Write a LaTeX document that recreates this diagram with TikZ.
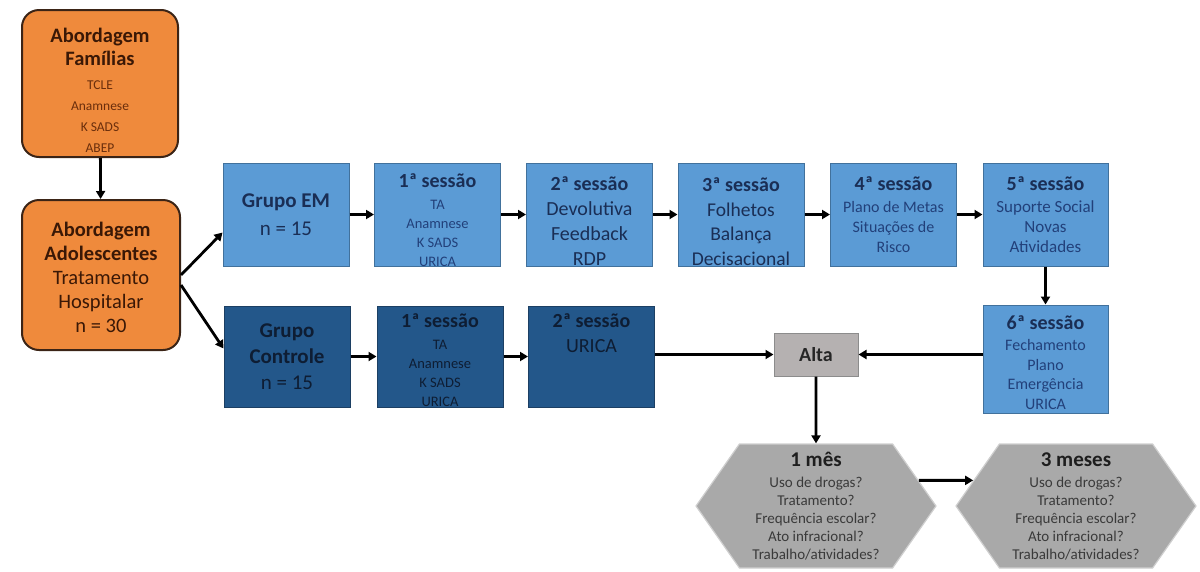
\documentclass[tikz,border=0pt]{standalone}
\usepackage{fontspec}
\setmainfont{Carlito}
\usetikzlibrary{arrows.meta,shapes.symbols,calc}
\definecolor{orng}{HTML}{EF8A3C}
\definecolor{brn}{HTML}{3B2416}
\definecolor{brntxt}{HTML}{3A1806}
\definecolor{brnsm}{HTML}{6A2E0C}
\definecolor{lblue}{HTML}{5B9BD5}
\definecolor{lbedge}{HTML}{41719C}
\definecolor{navy}{HTML}{1A2E55}
\definecolor{navysm}{HTML}{22407A}
\definecolor{dblue}{HTML}{23578A}
\definecolor{dbedge}{HTML}{1C3F63}
\definecolor{dtxt}{HTML}{0E1D33}
\definecolor{altag}{HTML}{B5B1B1}
\definecolor{altae}{HTML}{8C8C8C}
\definecolor{hexg}{HTML}{A9A9A9}
\definecolor{hexe}{HTML}{CFCFCF}
\definecolor{hextxt}{HTML}{1E1E1E}
\definecolor{hexsm}{HTML}{3A3A3A}
\newcommand\fsz[2]{\fontsize{#1}{#2}\selectfont}
\newcommand\dn[1]{\rule{0pt}{#1}}
\begin{document}
\begin{tikzpicture}[x=1pt,y=-1pt,
  arr/.style={line width=2.8pt,-{Triangle[length=8pt,width=9pt]}},
  orbox/.style={draw=brn,line width=2pt,fill=orng,rounded corners=17pt,align=center,text=brntxt,inner sep=0pt},
  lbox/.style={draw=lbedge,line width=1pt,fill=lblue,minimum width=126pt,minimum height=103pt,align=center,text=navy,inner sep=0pt},
  dbox/.style={lbox,draw=dbedge,fill=dblue,text=dtxt},
  tx/.style={align=center,inner sep=0pt},
  altab/.style={draw=altae,line width=1pt,fill=altag,minimum width=84pt,minimum height=43pt,text=black!85,inner sep=0pt},
  hexs/.style={signal,signal to=east and west,signal pointer angle=110,draw=hexe,line width=1.2pt,fill=hexg,minimum width=240pt,minimum height=124pt,inner sep=0pt,align=center,text=hexsm,font=\fsz{15}{18}}
]
\useasboundingbox (0,0) rectangle (1200,571);

% orange boxes
\node[orbox,minimum width=156pt,minimum height=147pt,font=\fsz{13.5}{21},text=brnsm] (fam) at (100,83.5)
 {{\bfseries\fsz{20.5}{23}\color{brntxt}\dn{28.5pt}Abordagem}\\[2pt]{\bfseries\fsz{20.5}{23}\color{brntxt}Famílias}\\[3pt]TCLE\\Anamnese\\K SADS\\ABEP};
\node[orbox,minimum width=158pt,minimum height=150pt,font=\fsz{20.5}{24}] (ado) at (101,275)
 {{\bfseries\dn{19pt}Abordagem}\\{\bfseries Adolescentes}\\Tratamento\\Hospitalar\\n = 30};

% top row
\node[lbox,font=\fsz{21}{28}] (em) at (286,214.5) {{\bfseries Grupo EM}\\n = 15};
\node[lbox] (s1) at (437.5,214.5) {};
\begin{scope}
\clip (s1.south west) rectangle (s1.north east);
\node[tx,anchor=north,font=\fsz{14.5}{19},text=navysm] (s1t) at ([yshift=-11pt]s1.north)
 {{\bfseries\fsz{20}{19}\color{navy}1ª sessão}\\[3pt]TA\\Anamnese\\K SADS\\URICA};
\end{scope}
\node[lbox,font=\fsz{20}{25}] (s2) at (589.5,214.5) {{\bfseries\dn{27pt}2ª sessão}\\Devolutiva\\Feedback\\RDP};
\node[lbox,font=\fsz{19.5}{24.5}] (s3) at (741,214.5) {{\bfseries\fsz{20}{24.5}\dn{28pt}3ª sessão}\\Folhetos\\Balança\\Decisacional};
\node[lbox,font=\fsz{16}{20},text=navysm] (s4) at (893.5,214.5) {{\bfseries\fsz{20}{20}\color{navy}4ª sessão}\\[2pt]Plano de Metas\\Situações de\\Risco};
\node[lbox,font=\fsz{17}{20},text=navysm,minimum width=125pt] (s5) at (1045.5,214.5) {{\bfseries\fsz{20}{20}\color{navy}5ª sessão}\\[2pt]Suporte Social\\Novas\\Atividades};
\node[lbox,font=\fsz{16}{19.5},text=navysm,minimum width=125pt,minimum height=108pt] (s6) at (1045.5,359)
 {{\bfseries\fsz{20}{20}\color{navy}\dn{21pt}6ª sessão}\\[2pt]Fechamento\\Plano\\Emergência\\URICA};

% control row
\node[dbox,font=\fsz{21}{26},minimum height=101pt] (ctl) at (287,356.5) {{\bfseries Grupo}\\{\bfseries Controle}\\n = 15};
\node[dbox,minimum height=101pt] (c1) at (440,356.5) {};
\begin{scope}
\clip (c1.south west) rectangle (c1.north east);
\node[tx,anchor=north,font=\fsz{14.5}{19},text=dtxt] (c1t) at ([yshift=-8pt]c1.north)
 {{\bfseries\fsz{20}{19}1ª sessão}\\[3pt]TA\\Anamnese\\K SADS\\URICA};
\end{scope}
\node[dbox,minimum height=101pt] (c2) at (591.5,356.5) {};
\node[tx,anchor=north,font=\fsz{20}{25},text=dtxt] (c2t) at ([yshift=-8pt]c2.north) {{\bfseries 2ª sessão}\\URICA};

% alta and follow-ups
\node[altab] (alta) at (816,354.5) {\bfseries\fsz{20}{24}Alta};
\node[hexs] (m1) at (816,506)
 {{\bfseries\fsz{21}{18}\color{hextxt}1 mês}\\[3pt]Uso de drogas?\\Tratamento?\\Frequência escolar?\\Ato infracional?\\Trabalho/atividades?};
\node[hexs] (m3) at (1076,506)
 {{\bfseries\fsz{21}{18}\color{hextxt}3 meses}\\[3pt]Uso de drogas?\\Tratamento?\\Frequência escolar?\\Ato infracional?\\Trabalho/atividades?};

% connectors
\draw[arr] (fam) -- (ado);
\draw[arr] (ado.east) -- ([yshift=-18pt]em.west);
\draw[arr] ([yshift=-10pt]ado.east) -- ([yshift=8pt]ctl.west);
\draw[arr] (em) -- (s1);
\draw[arr] (s1) -- (s2);
\draw[arr] (s2) -- (s3);
\draw[arr] (s3) -- (s4);
\draw[arr] (s4) -- (s5);
\draw[arr] (s5) -- (s6);
\draw[arr] (ctl) -- (c1);
\draw[arr] (c1) -- (c2);
\draw[arr] (c2.east |- alta) -- (alta.west);
\draw[arr] (s6.west |- alta) -- (alta.east);
\draw[arr] (alta) -- (m1);
\draw[arr] (m1.14) -- (m3.166);
\end{tikzpicture}
\end{document}
